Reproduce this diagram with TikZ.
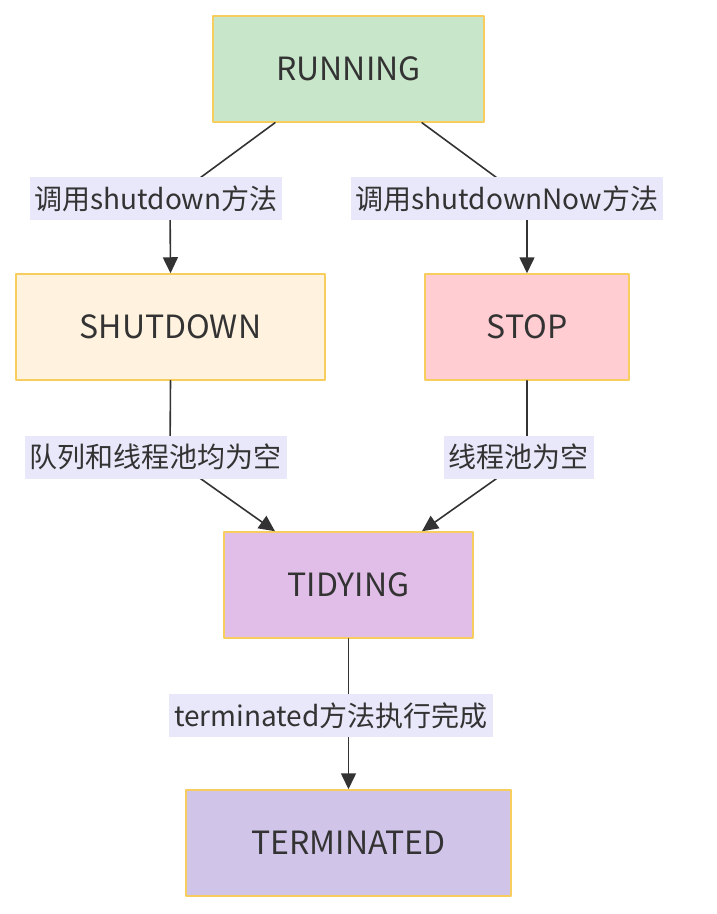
\documentclass[tikz,border=0pt]{standalone}
\usepackage{fontspec}
\setmainfont{Noto Sans CJK SC}
\usetikzlibrary{arrows.meta}
\definecolor{runfill}{HTML}{C8E6C9}
\definecolor{shutfill}{HTML}{FFF3E0}
\definecolor{stopfill}{HTML}{FFCDD2}
\definecolor{tidyfill}{HTML}{E1BEE7}
\definecolor{termfill}{HTML}{D1C4E9}
\definecolor{stateborder}{HTML}{F7CD5E}
\definecolor{lblbg}{HTML}{E8E8FA}
\definecolor{ink}{HTML}{333333}
\begin{document}
\begin{tikzpicture}[x=1pt,y=-1pt,line cap=round,line join=round,>={Triangle[length=16pt,width=15pt]},
	state/.style={draw=stateborder,line width=1.5pt,minimum height=106pt,text=ink,font=\fontsize{32}{38}\selectfont},
	lbl/.style={fill=lblbg,inner xsep=5pt,inner ysep=0pt,minimum height=43pt,text=ink,font=\fontsize{28}{34}\selectfont},
	edge/.style={draw=ink,line width=1.6pt}]
	\useasboundingbox (0,0) rectangle (716,914);
	% states
	\node[state,fill=runfill,minimum width=271pt] (run) at (348.5,69) {RUNNING};
	\node[state,fill=shutfill,minimum width=309pt] (shut) at (170.5,327) {SHUTDOWN};
	\node[state,fill=stopfill,minimum width=204pt] (stop) at (527,327) {STOP};
	\node[state,fill=tidyfill,minimum width=249pt] (tidy) at (348.5,585) {TIDYING};
	\node[state,fill=termfill,minimum width=325pt] (term) at (348.5,843) {TERMINATED};
	% transitions
	\draw[edge,->] ([xshift=-73.5pt]run.south) -- (170,200) -- (shut.north);
	\draw[edge,->] ([xshift=73.5pt]run.south) -- (527,200) -- (stop.north);
	\draw[edge,->] (shut.south) -- (170,457) -- ([xshift=-73.5pt]tidy.north);
	\draw[edge,->] (stop.south) -- (527,457) -- ([xshift=73.5pt]tidy.north);
	\draw[edge,->] (tidy) -- (term);
	% labels
	\node[lbl] (l1) at (156,198.5) {调用shutdown方法};
	\node[lbl] (l2) at (507,198.5) {调用shutdownNow方法};
	\node[lbl] (l3) at (155.5,457) {队列和线程池均为空};
	\node[lbl] (l4) at (518.5,457) {线程池为空};
	\node[lbl] (l5) at (331,715.5) {terminated方法执行完成};
\end{tikzpicture}
\end{document}
